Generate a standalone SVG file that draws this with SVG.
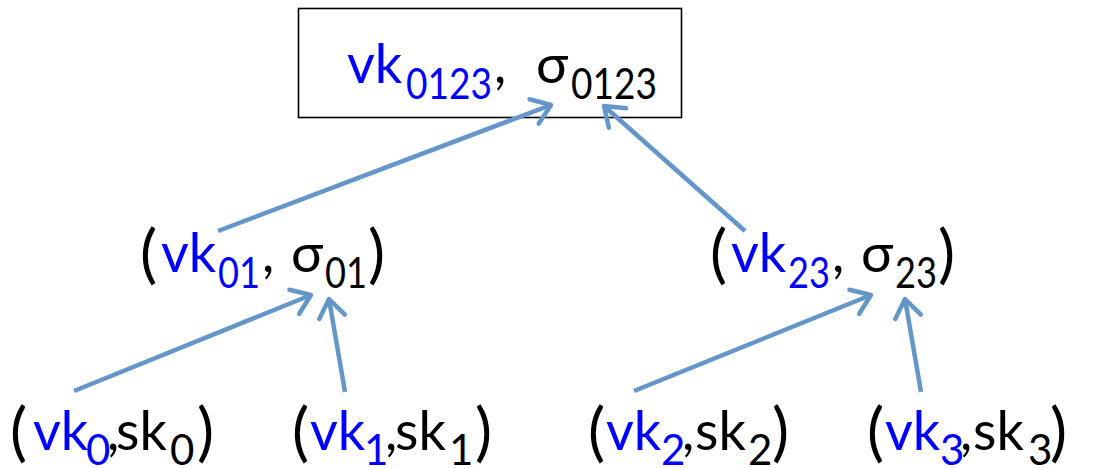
<svg xmlns="http://www.w3.org/2000/svg" width="1100" height="468" viewBox="0 0 1100 468">
<style>
.t{font-family:Lato,"Open Sans",sans-serif;font-size:54px;fill:#000}
.s{font-family:Lato,"Open Sans",sans-serif;font-size:42px;fill:#000}
.p{font-size:64px}
.b{fill:#0000ff}
.c{fill:none;stroke:#6596ca;stroke-width:4.5}
</style>
<defs>
<marker id="ah" markerUnits="userSpaceOnUse" viewBox="-26 -20 32 40" refX="0" refY="0" markerWidth="32" markerHeight="40" orient="auto">
<path d="M-18,-13 L0,0 L-18,13" fill="none" stroke="#6596ca" stroke-width="4.5" stroke-linecap="round" stroke-linejoin="round"/>
</marker>
</defs>
<rect width="1100" height="468" fill="#fff"/>
<g id="root">
<rect x="298.5" y="8.5" width="383" height="109" fill="#fff" stroke="#000" stroke-width="1.6"/>
<text class="t"><tspan class="b" x="347" y="83">vk</tspan><tspan x="494" y="83">,</tspan><tspan x="536" y="83">σ</tspan></text>
<text class="s b" x="406" y="99" textLength="86" lengthAdjust="spacingAndGlyphs">0123</text>
<text class="s" x="571" y="99" textLength="86" lengthAdjust="spacingAndGlyphs">0123</text>
</g>
<g id="n01">
<text class="t"><tspan class="p" x="140" y="276">(</tspan><tspan class="b" x="161" y="272">vk</tspan><tspan x="262" y="272">,</tspan><tspan x="291" y="272">σ</tspan><tspan class="p" x="368" y="276">)</tspan></text>
<text class="s b" x="218" y="288" textLength="42" lengthAdjust="spacingAndGlyphs">01</text>
<text class="s" x="325" y="288" textLength="42" lengthAdjust="spacingAndGlyphs">01</text>
</g>
<g id="n23">
<text class="t"><tspan class="p" x="710" y="276">(</tspan><tspan class="b" x="731" y="272">vk</tspan><tspan x="832" y="272">,</tspan><tspan x="861" y="272">σ</tspan><tspan class="p" x="938" y="276">)</tspan></text>
<text class="s b" x="788" y="288" textLength="42" lengthAdjust="spacingAndGlyphs">23</text>
<text class="s" x="895" y="288" textLength="42" lengthAdjust="spacingAndGlyphs">23</text>
</g>
<g id="n0">
<text class="t"><tspan class="p" x="10" y="454">(</tspan><tspan class="b" x="33" y="450">vk</tspan><tspan x="107" y="450">,</tspan><tspan x="116" y="450">sk</tspan><tspan class="p" x="197" y="454">)</tspan></text>
<text class="s b" x="86" y="465">0</text>
<text class="s" x="170" y="465">0</text>
</g>
<g id="n1">
<text class="t"><tspan class="p" x="292" y="454">(</tspan><tspan class="b" x="310" y="450">vk</tspan><tspan x="385" y="450">,</tspan><tspan x="395" y="450">sk</tspan><tspan class="p" x="475" y="454">)</tspan></text>
<text class="s b" x="364" y="465">1</text>
<text class="s" x="449" y="465">1</text>
</g>
<g id="n2">
<text class="t"><tspan class="p" x="588" y="454">(</tspan><tspan class="b" x="606" y="450">vk</tspan><tspan x="682" y="450">,</tspan><tspan x="695" y="450">sk</tspan><tspan class="p" x="772" y="454">)</tspan></text>
<text class="s b" x="661" y="465">2</text>
<text class="s" x="748" y="465">2</text>
</g>
<g id="n3">
<text class="t"><tspan class="p" x="867" y="454">(</tspan><tspan class="b" x="885" y="450">vk</tspan><tspan x="960" y="450">,</tspan><tspan x="973" y="450">sk</tspan><tspan class="p" x="1050" y="454">)</tspan></text>
<text class="s b" x="940" y="465">3</text>
<text class="s" x="1028" y="465">3</text>
</g>
<g id="connectors">
<line class="c" x1="218" y1="231" x2="551" y2="105" marker-end="url(#ah)"/>
<line class="c" x1="745" y1="231" x2="604" y2="106" marker-end="url(#ah)"/>
<line class="c" x1="74" y1="391" x2="311" y2="295" marker-end="url(#ah)"/>
<line class="c" x1="345" y1="392" x2="329" y2="299" marker-end="url(#ah)"/>
<line class="c" x1="634" y1="391" x2="871" y2="295" marker-end="url(#ah)"/>
<line class="c" x1="921" y1="392" x2="905" y2="299" marker-end="url(#ah)"/>
</g>
</svg>
